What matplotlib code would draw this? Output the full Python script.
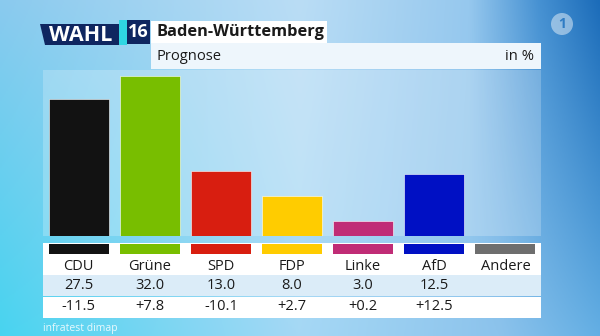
import matplotlib
matplotlib.use('Agg')
import matplotlib.pyplot as plt
from matplotlib.patches import Polygon, Rectangle, Circle
import numpy as np

# Prognose Baden-Württemberg 2016, Stimmenanteile in %
parties = ['CDU', 'Grüne', 'SPD', 'FDP', 'Linke', 'AfD', 'Andere']
shares = [27.5, 32.0, 13.0, 8.0, 3.0, 12.5, 0.0]
share_labels = ['27.5', '32.0', '13.0', '8.0', '3.0', '12.5', '']
change_labels = ['-11.5', '+7.8', '-10.1', '+2.7', '+0.2', '+12.5', '']
colors = ['#121212', '#78be00', '#d81e10', '#ffcc00', '#c02c76', '#0010c4', '#6e6e6e']

W, H = 600, 336
FONT = 'Open Sans'
DARK = '#1a1a1a'

fig = plt.figure(figsize=(W / 100, H / 100), dpi=100)

# background in pixel coordinates
bg = fig.add_axes([0, 0, 1, 1])
bg.set_xlim(0, W)
bg.set_ylim(H, 0)
bg.axis('off')


def ramp(xs, stops):
    pos = [s[0] for s in stops]
    return np.stack([np.interp(xs, pos, [s[1][c] for s in stops]) for c in range(3)], axis=-1)


xs = np.linspace(0, W, 300)
top = ramp(xs, [(0, (138, 202, 238)), (300, (186, 221, 245)), (470, (150, 200, 238)),
                (540, (70, 145, 210)), (600, (28, 108, 185))])
bottom = ramp(xs, [(0, (72, 212, 240)), (300, (165, 216, 245)), (500, (140, 195, 236)),
                   (600, (100, 175, 228))])
t = np.linspace(0, 1, 170)[:, None, None]
grad = (top[None] * (1 - t) + bottom[None] * t) / 255.0
bg.imshow(grad, extent=(0, W, H, 0), aspect='auto', zorder=0)

# light panel behind the bars
bg.add_patch(Rectangle((43, 70), 498, 166, facecolor='white', alpha=0.22,
                       edgecolor='none', zorder=1))

# header: WAHL 16 logo
bg.add_patch(Polygon([(40, 24), (120, 24), (120, 45), (45, 45)], closed=True,
                     facecolor='#0f2660', edgecolor='none', zorder=2))
bg.add_patch(Rectangle((119, 20), 8, 25, facecolor='#2fd6e2', edgecolor='none', zorder=2))
bg.add_patch(Rectangle((127, 20), 23, 24, facecolor='#0f2660', edgecolor='none', zorder=2))
bg.text(81, 35.5, 'WAHL', color='white', fontsize=15.5, fontweight='bold',
        family=FONT, ha='center', va='center', zorder=3)
bg.text(138.5, 32, '16', color='white', fontsize=13, fontweight='bold',
        family=FONT, ha='center', va='center', zorder=3)

# title boxes
bg.add_patch(Rectangle((151, 21), 176, 22, facecolor='white', edgecolor='none', zorder=2))
bg.add_patch(Rectangle((151, 43), 390, 26, facecolor='#eef6fc', edgecolor='none', zorder=2))
bg.text(157, 32, 'Baden-Württemberg', color=DARK, fontsize=11.8, fontweight='bold',
        family=FONT, ha='left', va='center', zorder=3)
bg.text(157, 56, 'Prognose', color=DARK, fontsize=10.6, fontweight='medium',
        family=FONT, ha='left', va='center', zorder=3)
bg.text(534, 56, 'in %', color=DARK, fontsize=10.6, fontweight='medium',
        family=FONT, ha='right', va='center', zorder=3)

# station logo
bg.add_patch(Circle((562, 24), 11, facecolor='white', alpha=0.45, edgecolor='none', zorder=2))
bg.text(562, 24.5, '1', color='#2f7cc4', fontsize=10, fontweight='bold',
        family=FONT, ha='center', va='center', zorder=3)

bg.text(43, 328, 'infratest dimap', color='white', alpha=0.85, fontsize=7.5,
        family=FONT, ha='left', va='center', zorder=3)

# bar chart: 5 px per percentage point, baseline at y=236
px_per_pct = 5.0
x = np.arange(len(parties))
ax = fig.add_axes([43 / W, (H - 236) / H, 498 / W, 166 / H])
ax.set_xlim(-0.5, len(parties) - 0.5)
ax.set_ylim(0, 166 / px_per_pct)
ax.axis('off')
ax.patch.set_alpha(0)
ax.bar(x[:-1], shares[:-1], width=0.845, color=colors[:-1], edgecolor='white',
       linewidth=0.4, zorder=2)

# results table
tb = fig.add_axes([43 / W, (H - 318) / H, 498 / W, 75 / H])
tb.set_xlim(-0.5, len(parties) - 0.5)
tb.set_ylim(75, 0)
tb.axis('off')
tb.add_patch(Rectangle((-0.5, 0), 7, 32, facecolor='white', edgecolor='none'))
tb.add_patch(Rectangle((-0.5, 32), 7, 21, facecolor='#dbecf8', edgecolor='none'))
tb.add_patch(Rectangle((-0.5, 54), 7, 21, facecolor='white', edgecolor='none'))
tb.bar(x, 10.5, bottom=0.5, width=0.845, color=colors, zorder=2)

for i, name in enumerate(parties):
    tb.text(i, 23, name, color=DARK, fontsize=10.5, fontweight='medium', family=FONT,
            ha='center', va='center')
    tb.text(i, 42.5, share_labels[i], color=DARK, fontsize=10.5, fontweight='medium',
            family=FONT, ha='center', va='center')
    tb.text(i, 64, change_labels[i], color=DARK, fontsize=10.5, fontweight='medium',
            family=FONT, ha='center', va='center')

fig.savefig('out.png', dpi=100)
plt.close(fig)
